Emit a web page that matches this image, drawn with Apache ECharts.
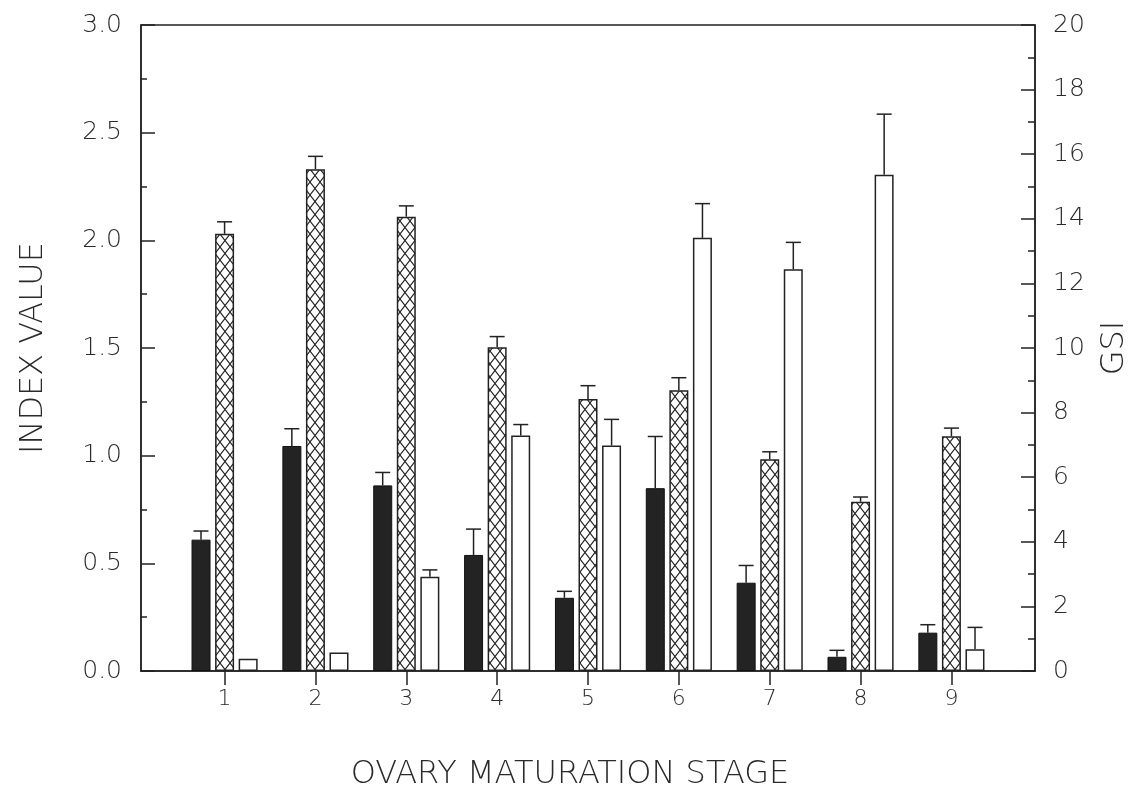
<!DOCTYPE html>
<html>
<head>
<meta charset="utf-8">
<script src="https://cdn.jsdelivr.net/npm/echarts@6/dist/echarts.min.js"></script>
<style>html,body{margin:0;padding:0;background:#fff;}#c{width:1137px;height:787px;}</style>
</head>
<body>
<div id="c"></div>
<script>
// ---- data ----
const stages = [1, 2, 3, 4, 5, 6, 7, 8, 9];
const blackValues = [0.61, 1.045, 0.862, 0.539, 0.340, 0.849, 0.410, 0.066, 0.178];
const blackErrors = [0.04, 0.08, 0.06, 0.12, 0.03, 0.24, 0.08, 0.03, 0.037];
const hatchValues = [2.03, 2.33, 2.11, 1.503, 1.263, 1.304, 0.983, 0.786, 1.09];
const hatchErrors = [0.056, 0.06, 0.05, 0.05, 0.062, 0.058, 0.035, 0.022, 0.038];
const gsiValues = [0.38, 0.57, 2.92, 7.29, 6.98, 13.41, 12.44, 15.36, 0.67];
const gsiErrors = [0, 0, 0.21, 0.34, 0.81, 1.06, 0.83, 1.88, 0.68];
const leftTicks = [0, 0.5, 1.0, 1.5, 2.0, 2.5, 3.0];
const rightTicks = [0, 2, 4, 6, 8, 10, 12, 14, 16, 18, 20];

// ---- hatch pattern ----
const pc = document.createElement('canvas');
pc.width = 10; pc.height = 13;
const g = pc.getContext('2d');
g.fillStyle = '#fff'; g.fillRect(0, 0, 10, 13);
g.strokeStyle = '#222'; g.lineWidth = 1.1;
g.beginPath();
g.moveTo(0, 0); g.lineTo(10, 13);
g.moveTo(10, 0); g.lineTo(0, 13);
g.stroke();

const textColor = '#2a2a2a';
const fontFam = 'DejaVu Sans';
const BW = 19;
const OFF = 23.6;

function errSeries(vals, errs, dx, yIdx) {
  return {
    type: 'custom',
    xAxisIndex: 0,
    yAxisIndex: yIdx,
    z: 5,
    data: stages.map((s, i) => [s, vals[i], errs[i]]),
    encode: { x: 0, y: 1 },
    renderItem: function (params, api) {
      const x = api.value(0), v = api.value(1), e = api.value(2);
      if (!e) return null;
      const p0 = api.coord([x, v]);
      const p1 = api.coord([x, v + e]);
      const cx = p0[0] + dx;
      const st = { stroke: '#222', lineWidth: 1.5 };
      return {
        type: 'group',
        children: [
          { type: 'line', shape: { x1: cx, y1: p0[1], x2: cx, y2: p1[1] }, style: st },
          { type: 'line', shape: { x1: cx - 7.5, y1: p1[1], x2: cx + 7.5, y2: p1[1] }, style: st }
        ]
      };
    }
  };
}

const chart = echarts.init(document.getElementById('c'));
chart.setOption({
  animation: false,
  backgroundColor: '#fff',
  grid: { left: 141, right: 102, top: 25, bottom: 116, containLabel: false, outerBoundsMode: 'none',
    show: true, borderColor: '#222', borderWidth: 1.5, backgroundColor: 'transparent' },
  xAxis: {
    type: 'value',
    min: 0.08, max: 9.92,
    name: 'OVARY MATURATION STAGE',
    nameLocation: 'middle',
    nameGap: 88,
    nameTextStyle: { fontSize: 32, color: textColor, fontFamily: fontFam, fontWeight: 'lighter', padding: [0, 36, 0, 0] },
    splitLine: { show: false },
    axisLine: { show: true, onZero: false, lineStyle: { color: '#222', width: 1.5 } },
    axisTick: { show: true, inside: false, length: 14, customValues: stages, lineStyle: { color: '#222', width: 1.5 } },
    axisLabel: { customValues: stages, margin: 17, fontSize: 22, color: textColor, fontFamily: fontFam, fontWeight: 'lighter' }
  },
  yAxis: [
    {
      type: 'value', min: 0, max: 3, interval: 0.5,
      position: 'left',
      name: 'INDEX VALUE',
      nameLocation: 'middle',
      nameGap: 91,
      nameRotate: 90,
      nameTextStyle: { fontSize: 32, color: textColor, fontFamily: fontFam, fontWeight: 'lighter' },
      splitLine: { show: false },
      axisLine: { show: true, lineStyle: { color: '#222', width: 1.5 } },
      axisTick: { show: true, inside: true, length: 14, lineStyle: { color: '#222', width: 1.5 } },
      minorTick: { show: true, splitNumber: 2, length: 6, lineStyle: { color: '#222', width: 1.5 } },
      axisLabel: { margin: 19, fontSize: 25, color: textColor, fontFamily: fontFam, fontWeight: 'lighter',
        formatter: v => leftTicks.includes(v) ? v.toFixed(1) : '' }
    },
    {
      type: 'value', min: 0, max: 20, interval: 2,
      position: 'right',
      name: 'GSI',
      nameLocation: 'middle',
      nameGap: 64,
      nameRotate: 90,
      nameTextStyle: { fontSize: 32, color: textColor, fontFamily: fontFam, fontWeight: 'lighter' },
      splitLine: { show: false },
      axisLine: { show: true, lineStyle: { color: '#222', width: 1.5 } },
      axisTick: { show: true, inside: true, length: 14, lineStyle: { color: '#222', width: 1.5 } },
      minorTick: { show: true, splitNumber: 2, length: 7, lineStyle: { color: '#222', width: 1.5 } },
      axisLabel: { margin: 18, fontSize: 25, color: textColor, fontFamily: fontFam, fontWeight: 'lighter',
        formatter: v => rightTicks.includes(v) ? String(v) : '' }
    }
  ],
  series: [
    {
      type: 'bar', name: 'black', yAxisIndex: 0,
      barWidth: BW, barGap: '24%',
      data: stages.map((s, i) => [s, blackValues[i]]),
      itemStyle: { color: '#232323', borderColor: '#111', borderWidth: 1 }
    },
    {
      type: 'bar', name: 'hatched', yAxisIndex: 0,
      barWidth: BW, barGap: '24%',
      data: stages.map((s, i) => [s, hatchValues[i]]),
      itemStyle: { color: { image: pc, repeat: 'repeat' }, borderColor: '#222', borderWidth: 1.5 }
    },
    {
      type: 'bar', name: 'GSI', yAxisIndex: 1,
      barWidth: BW, barGap: '24%',
      data: stages.map((s, i) => [s, gsiValues[i]]),
      itemStyle: { color: '#fff', borderColor: '#222', borderWidth: 1.5 }
    },
    errSeries(blackValues, blackErrors, -OFF, 0),
    errSeries(hatchValues, hatchErrors, 0, 0),
    errSeries(gsiValues, gsiErrors, OFF, 1)
  ]
});
</script>
</body>
</html>
